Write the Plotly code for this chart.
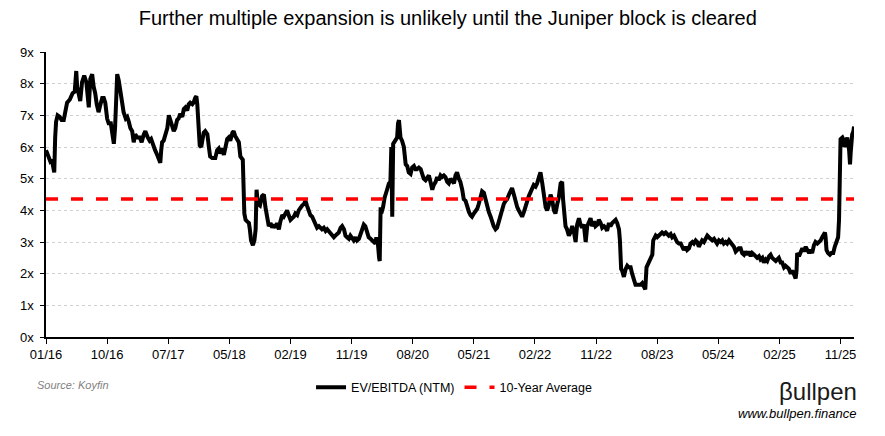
import plotly.graph_objects as go

# ---------------- data ----------------
# observation number (trading-day index, Excel category axis) and EV/EBITDA (NTM)
obs = [
    0, 4, 9, 14, 19, 24, 27, 30, 33, 38,
    45, 51, 58, 63, 69, 78, 87, 94, 99, 102,
    107, 112, 118, 125, 132, 136, 140, 145, 151, 156,
    161, 166, 172, 177, 184, 189, 194, 200, 205, 212,
    217, 222, 226, 233, 238, 243, 249, 254, 261, 266,
    271, 276, 282, 287, 292, 299, 307, 313, 320,
    325, 333, 339, 344, 351, 357, 364, 369, 374, 377,
    380, 385, 390, 397, 402, 407, 413, 418, 423, 429,
    434, 439, 446, 451, 456, 462, 467, 472, 479, 483,
    488, 492, 495, 500, 503, 508, 511, 516, 521, 528,
    533, 537, 544, 549, 554, 560, 565, 570, 577, 582,
    587, 593, 598, 603, 610, 614, 619, 626, 631, 636,
    641, 644,
    649, 653, 658, 664, 667, 671, 677, 682, 686, 689,
    693, 700, 707, 713, 718, 723, 729, 735, 740, 745,
    751, 756, 762, 767, 773, 778, 784, 789, 794, 800,
    805, 811, 816, 822, 827, 833, 838, 844, 849, 854,
    860, 865, 871, 876, 882, 887, 893, 898, 903, 909,
    915, 920, 925, 931, 936, 942, 947, 953, 958, 964,
    969, 975,
    980, 985, 991, 996, 1002, 1007, 1013, 1018, 1024, 1029,
    1034, 1040, 1045, 1051, 1056, 1062, 1067, 1073, 1078, 1081,
    1086, 1090, 1092, 1095, 1097, 1100, 1103, 1108, 1112, 1116,
    1122, 1127, 1130, 1133, 1136, 1140, 1144, 1149, 1152, 1155,
    1160, 1165, 1171, 1174, 1177, 1182, 1187, 1193, 1198, 1204,
    1209, 1214, 1220, 1226, 1231, 1236, 1242, 1247, 1253, 1258,
    1264, 1269, 1275, 1280, 1285, 1291, 1296, 1302,
    1307, 1313, 1318, 1324, 1329, 1335, 1340, 1345, 1351, 1356,
    1362, 1367, 1373, 1378, 1384, 1389, 1394, 1400, 1406, 1411,
    1416, 1422, 1427, 1433, 1438, 1444, 1449, 1455, 1460, 1465,
    1471, 1476, 1482, 1487, 1493, 1498, 1504, 1509, 1515, 1520,
    1525, 1531, 1537, 1542, 1547, 1553, 1558, 1564, 1569, 1575,
    1580, 1586, 1591, 1596, 1602, 1607, 1613, 1618, 1624, 1629,
    1635, 1640, 1645, 1651, 1656, 1662, 1667, 1673, 1678, 1684,
    1689, 1692, 1697, 1700, 1705, 1711, 1716, 1722, 1727, 1733,
    1738, 1744, 1749, 1754, 1760, 1766, 1771, 1776, 1782, 1787,
    1793, 1798, 1804, 1809, 1815, 1820, 1826, 1831, 1836, 1842,
    1847, 1853, 1858, 1864, 1869, 1875, 1878, 1880, 1882, 1885,
    1891, 1897, 1902, 1907, 1913, 1918, 1924, 1929, 1935, 1940,
    1946, 1951, 1957, 1961, 1965,
    1969, 1973, 1978, 1984, 1987, 1992, 1995, 2000, 2006, 2011,
    2016, 2022, 2028, 2033, 2038, 2044, 2049, 2055, 2060, 2065,
    2071, 2077, 2082, 2087, 2093, 2098, 2104, 2109, 2115, 2120,
    2126, 2131, 2136, 2142, 2147, 2153, 2158, 2164, 2169, 2175,
    2180, 2186, 2191, 2196, 2202, 2208, 2213, 2218, 2224, 2229,
    2235, 2240, 2246, 2251, 2257, 2262, 2267, 2273, 2278, 2284,
    2289, 2295, 2300, 2306, 2311, 2317, 2322, 2327, 2333, 2338,
    2344, 2349, 2355, 2360, 2366, 2371, 2376, 2382, 2388, 2393,
    2398, 2404, 2409, 2415, 2420, 2426, 2431, 2437, 2442, 2447,
    2453, 2456, 2458, 2464, 2469, 2475, 2480, 2486, 2491, 2497,
    2502, 2507, 2513, 2518, 2524, 2529, 2535, 2540, 2546, 2549,
    2551, 2554, 2559, 2565, 2570, 2576, 2581, 2585, 2589, 2592,
    2595, 2597, 2598, 2600, 2606, 2611, 2613, 2617, 2622, 2628,
    2631, 2633, 2635, 2638, 2642, 2644,
]

ev_ebitda = [
    5.9, 5.8, 5.6, 5.55, 5.6, 5.3, 5.2, 6.3, 6.8, 7.0,
    6.95, 6.85, 6.85, 7.1, 7.4, 7.5, 7.7, 7.75, 8.4, 7.9,
    7.7, 7.45, 8.05, 8.25, 8.05, 7.55, 7.25, 8.15, 8.3, 7.9,
    7.7, 7.35, 7.1, 7.3, 7.55, 7.55, 7.4, 6.9, 6.75, 6.75,
    6.5, 6.1, 6.6, 8.3, 8.1, 7.8, 7.4, 7.1, 6.9, 6.95,
    6.8, 6.6, 6.5, 6.15, 6.4, 6.3, 6.3, 6.15, 6.4,
    6.5, 6.3, 6.2, 6.25, 6.0, 5.9, 5.75, 5.6, 5.5, 5.9,
    6.15, 6.2, 6.35, 6.6, 7.0, 6.85, 6.6, 6.5, 6.6, 6.85,
    6.9, 7.05, 6.95, 7.2, 7.25, 7.15, 7.35, 7.4, 7.35, 7.4,
    7.55, 7.6, 7.35, 6.6, 6.05, 6.0, 6.2, 6.45, 6.5, 6.4,
    6.0, 5.7, 5.65, 5.65, 5.65, 5.9, 5.95, 5.8, 5.95, 5.75,
    6.05, 6.25, 6.3, 6.2, 6.45, 6.5, 6.35, 6.2, 6.15, 5.7,
    5.65, 5.6,
    3.9, 3.7, 3.65, 3.6, 3.4, 3.05, 2.9, 3.05, 3.4, 4.65,
    4.2, 4.15, 4.45, 4.5, 4.1, 3.8, 3.5, 3.6, 3.45, 3.55,
    3.45, 3.6, 3.4, 3.65, 3.85, 3.8, 3.9, 4.0, 3.85, 3.7,
    3.75, 3.8, 3.9, 3.85, 4.0, 4.1, 4.15, 4.2, 4.3, 4.15,
    3.95, 3.85, 3.8, 3.7, 3.6, 3.45, 3.5, 3.45, 3.4, 3.45,
    3.35, 3.4, 3.35, 3.25, 3.2, 3.15, 3.2, 3.25, 3.3, 3.45,
    3.5, 3.4,
    3.2, 3.15, 3.1, 3.2, 3.1, 3.05, 3.15, 3.05, 3.1, 3.25,
    3.4, 3.55, 3.5, 3.25, 3.15, 3.1, 3.05, 3.0, 2.95, 3.15,
    2.95, 2.5, 2.4, 4.1, 3.9, 4.0, 4.1, 4.4, 4.6, 4.65,
    4.85, 4.9, 6.0, 3.8, 6.1, 6.15, 6.2, 6.3, 6.75, 6.85,
    6.3, 6.2, 6.0, 5.55, 5.45, 5.4, 5.2, 5.15, 5.35, 5.4,
    5.3, 5.3, 5.35, 5.3, 5.1, 5.0, 4.95, 5.0, 5.1, 4.9,
    4.65, 4.8, 4.9, 5.05, 4.95, 5.1, 5.05, 5.1,
    5.05, 4.9, 4.85, 5.0, 4.95, 4.85, 5.1, 5.2, 5.0, 4.9,
    4.65, 4.35, 4.3, 4.1, 3.95, 3.85, 3.8, 3.9, 4.0, 4.05,
    4.2, 4.4, 4.6, 4.55, 4.35, 4.1, 3.95, 3.8, 3.6, 3.5,
    3.4, 3.45, 3.65, 3.85, 4.05, 4.2, 4.3, 4.35, 4.5, 4.6,
    4.7, 4.5, 4.2, 4.1, 4.0, 3.85, 3.8, 3.95, 4.15, 4.3,
    4.45, 4.6, 4.75, 4.8, 4.75, 4.85, 5.05, 5.2, 4.85, 4.45,
    4.1, 4.0, 4.15, 4.5, 4.35, 4.0, 3.9, 4.2, 4.4, 4.85,
    4.9, 4.35, 3.75, 3.5, 3.4, 3.2, 3.3, 3.5, 3.35, 3.0,
    3.55, 3.75, 3.55, 3.45, 3.55, 3.0, 3.5, 3.6, 3.75, 3.5,
    3.65, 3.5, 3.55, 3.7, 3.6, 3.45, 3.5, 3.45, 3.35, 3.6,
    3.5, 3.6, 3.65, 3.7, 3.6, 3.4, 3.05, 2.35, 2.15, 2.1,
    1.9, 2.15, 2.25, 2.2, 2.2, 2.0, 1.85, 1.65, 1.65, 1.65,
    1.65, 1.7, 1.6, 1.5, 2.2,
    2.3, 2.4, 2.5, 2.6, 3.05, 3.15, 3.2, 3.15, 3.2, 3.25,
    3.3, 3.25, 3.3, 3.25, 3.2, 3.25, 3.15, 3.2, 3.05, 3.0,
    2.95, 2.95, 2.85, 2.75, 2.85, 2.75, 2.8, 2.95, 3.0, 2.95,
    3.05, 3.0, 2.85, 2.95, 3.05, 3.0, 3.1, 3.2, 3.15, 3.1,
    3.05, 3.1, 3.0, 2.95, 3.05, 3.0, 3.05, 2.95, 3.0, 2.95,
    3.05, 3.0, 2.9, 2.85, 2.7, 2.75, 2.8, 2.8, 2.65, 2.6,
    2.7, 2.6, 2.7, 2.55, 2.65, 2.6, 2.55, 2.5, 2.55, 2.45,
    2.5, 2.35, 2.45, 2.4, 2.55, 2.6, 2.5, 2.45, 2.4, 2.45,
    2.5, 2.35, 2.35, 2.2, 2.25, 2.2, 2.15, 2.0, 2.1, 2.0,
    1.85, 2.1, 2.65, 2.55, 2.65, 2.8, 2.7, 2.85, 2.75, 2.65,
    2.75, 2.65, 2.9, 3.0, 2.95, 3.0, 3.05, 3.15, 3.25, 3.3,
    3.15, 2.75, 2.65, 2.6, 2.65, 2.65, 2.85, 2.95, 3.05, 3.15,
    3.7, 5.6, 6.2, 6.25, 6.3, 6.2, 6.0, 6.1, 6.3, 5.9,
    5.45, 5.8, 6.2, 6.4, 6.5, 6.65,
]

ten_year_average = 4.36

tick_obs = [0, 200, 400, 600, 800, 1000, 1200, 1400, 1600, 1800, 2000, 2200, 2400, 2600]
tick_labels = ["01/16", "10/16", "07/17", "05/18", "02/19", "11/19", "08/20",
               "05/21", "02/22", "11/22", "08/23", "05/24", "02/25", "11/25"]
y_ticks = [0, 1, 2, 3, 4, 5, 6, 7, 8, 9]
y_tick_labels = ["0x", "1x", "2x", "3x", "4x", "5x", "6x", "7x", "8x", "9x"]

assert len(obs) == len(ev_ebitda)

# ---------------- figure ----------------
FONT = "Liberation Sans, Arial, sans-serif"

fig = go.Figure()
fig.add_trace(go.Scatter(
    x=obs, y=ev_ebitda, mode="lines", name="EV/EBITDA (NTM)",
    line=dict(color="#000000", width=4),
))
fig.add_trace(go.Scatter(
    x=[obs[0], obs[-1]], y=[ten_year_average, ten_year_average],
    mode="lines", name="10-Year Average",
    line=dict(color="#FF0000", width=3.5, dash="12px,13px"),
))

fig.update_layout(
    width=885, height=436,
    margin=dict(l=46, r=31, t=52, b=99),
    paper_bgcolor="white", plot_bgcolor="white",
    font=dict(family=FONT, size=12, color="#000000"),
    title=dict(
        text="Further multiple expansion is unlikely until the Juniper block is cleared",
        x=0.506, xanchor="center", y=1 - 18 / 436, yanchor="middle",
        font=dict(family=FONT, size=20, color="#000000"),
    ),
    showlegend=True,
    legend=dict(
        orientation="h", x=0.505, xanchor="center", y=-0.178, yanchor="middle",
        font=dict(family=FONT, size=12.5, color="#000000"),
        bgcolor="rgba(0,0,0,0)", itemwidth=30,
    ),
    xaxis=dict(
        range=[obs[0], obs[-1]],
        tickmode="array", tickvals=tick_obs, ticktext=tick_labels,
        ticks="outside", ticklen=5, tickcolor="#000000", tickwidth=1,
        showline=True, linecolor="#000000", linewidth=1.5,
        showgrid=False, zeroline=False,
        tickfont=dict(family=FONT, size=13, color="#000000"),
    ),
    yaxis=dict(
        range=[0, 9], tickmode="array", tickvals=y_ticks, ticktext=y_tick_labels,
        ticks="outside", ticklen=4, tickcolor="#000000", tickwidth=1,
        ticklabelstandoff=4,
        showline=True, linecolor="#000000", linewidth=1.5,
        showgrid=True, gridcolor="#CFCFCF", gridwidth=1, griddash="dot",
        zeroline=False,
        tickfont=dict(family=FONT, size=13, color="#000000"),
    ),
)

fig.add_annotation(
    text="<i>Source: Koyfin</i>", xref="paper", yref="paper",
    x=-0.0136, y=-0.168, xanchor="left", yanchor="middle", showarrow=False,
    font=dict(family=FONT, size=11, color="#7F7F7F"),
)
fig.add_annotation(
    text="βullpen", xref="paper", yref="paper",
    x=1.006, y=-0.19, xanchor="right", yanchor="middle", showarrow=False,
    font=dict(family=FONT, size=24, color="#1A1A1A"),
)
fig.add_annotation(
    text="<i>www.bullpen.finance</i>", xref="paper", yref="paper",
    x=1.006, y=-0.268, xanchor="right", yanchor="middle", showarrow=False,
    font=dict(family=FONT, size=13, color="#000000"),
)

fig.write_html("out.html", config={"displayModeBar": False},
               post_script="document.body.style.margin='0';")
